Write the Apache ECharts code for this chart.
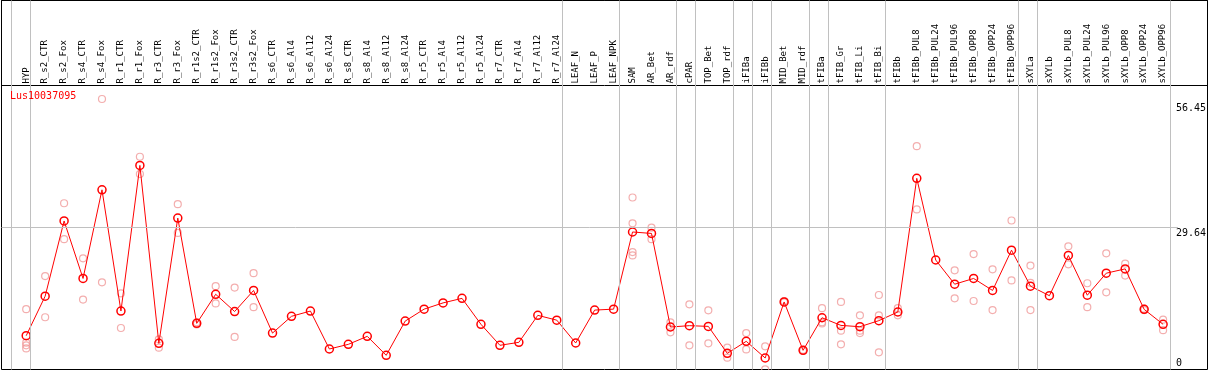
<!DOCTYPE html>
<html><head><meta charset="utf-8">
<script src="https://cdn.jsdelivr.net/npm/echarts@6/dist/echarts.min.js"></script>
<style>html,body{margin:0;padding:0;background:#fff}#c{width:1209px;height:370px}</style>
</head><body><div id="c"></div>
<script>
const geneName = 'Lus10037095';
const categories = ['HYP','R_s2_CTR','R_s2_Fox','R_s4_CTR','R_s4_Fox','R_r1_CTR','R_r1_Fox','R_r3_CTR','R_r3_Fox','R_r1s2_CTR','R_r1s2_Fox','R_r3s2_CTR','R_r3s2_Fox','R_s6_CTR','R_s6_Al4','R_s6_Al12','R_s6_Al24','R_s8_CTR','R_s8_Al4','R_s8_Al12','R_s8_Al24','R_r5_CTR','R_r5_Al4','R_r5_Al12','R_r5_Al24','R_r7_CTR','R_r7_Al4','R_r7_Al12','R_r7_Al24','LEAF_N','LEAF_P','LEAF_NPK','SAM','AR_Bet','AR_rdf','cPAR','TOP_Bet','TOP_rdf','iFIBa','iFIBb','MID_Bet','MID_rdf','tFIBa','tFIB_Gr','tFIB_Li','tFIB_Bi','tFIBb','tFIBb_PUL8','tFIBb_PUL24','tFIBb_PUL96','tFIBb_OPP8','tFIBb_OPP24','tFIBb_OPP96','sXYLa','sXYLb','sXYLb_PUL8','sXYLb_PUL24','sXYLb_PUL96','sXYLb_OPP8','sXYLb_OPP24','sXYLb_OPP96'];
const means = [7.05,15.3,31.0,19.0,37.5,12.2,42.6,5.46,31.6,9.63,15.7,12.1,16.5,7.6,11.1,12.2,4.28,5.25,6.92,2.96,10.1,12.6,13.9,14.85,9.43,5.05,5.67,11.3,10.3,5.53,12.4,12.6,28.7,28.4,8.87,9.15,9.0,3.37,5.88,2.4,14.1,4.0,10.8,9.2,8.93,10.2,12.0,39.9,22.85,17.8,19.0,16.5,24.9,17.4,15.4,23.8,15.5,20.1,21.0,12.55,9.43];
const replicates = [
  [12.6,5.6,5.05,4.4],[19.5,10.9],[34.7,27.2],[23.2,14.6],[56.45,18.2],[15.9,8.66],[44.4,40.8],[6.3,4.55],[34.5,28.5],[9.4,9.85],
  [17.4,13.8],[17.1,6.8],[20.1,13.0],[],[],[],[],[],[],[],
  [],[],[],[],[],[],[],[],[],[],
  [],[],[35.9,30.5,24.5,23.8],[29.6,27.2],[9.85,7.76],[13.6,5.05],[12.35,5.46],[4.55,2.47],[7.6,4.2],[4.84,0.04],
  [14.0,14.3],[3.9,4.1],[12.8,9.85,9.6],[14.1,8.1,5.25],[11.3,8.1,7.6],[15.55,11.3,3.59],[12.8,11.3],[46.6,33.4],[],[20.7,14.85],
  [24.1,14.3],[20.9,12.4],[31.1,18.6],[21.7,18.1,12.4],[],[25.7,21.95],[18.0,13.0],[24.25,16.1],[22.1,19.6],[12.4,12.7],
  [10.4,8.2]
];
const groupEnds = [-1,0,28,31,34,35,37,38,39,41,42,45,52,53,60];
const yTickLabels = [0, 29.64, 56.45];
const refLine = 29.64;

const W = 1209, H = 370;
const plotLeft = 1.5, plotRight = 1207.5, plotTop = 85.5, plotBottom = 369.5;
const firstX = 26.2, step = 19.0;
const lastX = firstX + step * (categories.length - 1);
const yMax = yTickLabels[yTickLabels.length - 1];
const yTop = yMax * 1.05;
const sepOffset = 0.23;
const labelColX = 1178;
const font = 'DejaVu Sans Mono';

const repData = [];
replicates.forEach((arr, i) => arr.forEach(v => repData.push([i, v])));

const chart = echarts.init(document.getElementById('c'), null, {renderer: 'canvas'});
chart.setOption({
  animation: false,
  title: {text: geneName, left: 10, top: 91, padding: 0,
    textStyle: {color: '#ff0000', fontSize: 10, fontWeight: 'normal', fontFamily: font}},
  grid: [
    {left: firstX, right: W - lastX, top: plotTop, bottom: H - plotBottom},
    {left: plotLeft, right: W - plotRight, top: 0.5, bottom: H - plotBottom, show: true, borderColor: '#000', borderWidth: 1, backgroundColor: 'transparent'},
    {left: plotLeft, right: W - plotRight, top: 0.5, height: plotTop - 0.5, show: true, borderColor: '#000', borderWidth: 1, backgroundColor: 'transparent'},
    {left: plotLeft, right: W - labelColX, top: plotTop, bottom: H - plotBottom}
  ],
  xAxis: [
    {gridIndex: 0, type: 'category', data: categories, boundaryGap: false, position: 'top',
      axisLine: {show: false}, axisTick: {show: false}, splitLine: {show: false},
      axisLabel: {interval: 0, rotate: 90, margin: 2, fontSize: 9, fontFamily: font, color: '#000'}},
    {gridIndex: 1, type: 'value', min: -(firstX - plotLeft) / step, max: (categories.length - 1) + (plotRight - lastX) / step, show: false},
    {gridIndex: 2, type: 'value', min: 0, max: 1, show: false},
    {gridIndex: 3, type: 'value', min: 0, max: 1, show: false}
  ],
  yAxis: [
    {gridIndex: 0, type: 'value', min: 0, max: yTop, show: false},
    {gridIndex: 0, type: 'value', min: 0, max: yTop, position: 'right',
      axisLine: {show: false}, axisTick: {show: false}, splitLine: {show: false},
      axisLabel: {customValues: yTickLabels.slice(1), verticalAlign: 'top', margin: labelColX - lastX + 1,
        fontSize: 10, fontFamily: font, color: '#000',
        formatter: v => v === yMax ? '{t|' + v + '}' : '{m|' + v + '}',
        rich: {t: {fontSize: 10, fontFamily: font, color: '#000', padding: [4, 0, 0, 0]},
               m: {fontSize: 10, fontFamily: font, color: '#000', padding: [1, 0, 0, 0]}}}},
    {gridIndex: 0, type: 'value', min: 0, max: yTop, position: 'right',
      axisLine: {show: false}, axisTick: {show: false}, splitLine: {show: false},
      axisLabel: {customValues: yTickLabels.slice(0, 1), verticalAlign: 'bottom', padding: [0, 0, 1.5, 0], margin: labelColX - lastX + 1,
        fontSize: 10, fontFamily: font, color: '#000', formatter: v => String(v)}},
    {gridIndex: 1, type: 'value', min: 0, max: 1, show: false},
    {gridIndex: 2, type: 'value', min: 0, max: 1, show: false},
    {gridIndex: 3, type: 'value', min: 0, max: yTop, show: false}
  ],
  series: [
    {type: 'line', xAxisIndex: 1, yAxisIndex: 3, data: [], silent: true,
      markLine: {silent: true, symbol: ['none', 'none'], label: {show: false},
        lineStyle: {color: '#c0c0c0', type: 'solid', width: 1},
        data: groupEnds.map(e => ({xAxis: e + sepOffset}))}},
    {type: 'line', xAxisIndex: 3, yAxisIndex: 5, data: [], silent: true,
      markLine: {silent: true, symbol: ['none', 'none'], label: {show: false},
        lineStyle: {color: '#c0c0c0', type: 'solid', width: 1},
        data: [{yAxis: refLine}]}},
    {type: 'scatter', name: 'replicates', xAxisIndex: 0, yAxisIndex: 0, data: repData, silent: true, z: 2,
      symbol: 'circle', symbolSize: 7,
      itemStyle: {color: 'rgba(0,0,0,0)', borderColor: '#f09a9a', borderWidth: 1.2}},
    {type: 'line', name: geneName, xAxisIndex: 0, yAxisIndex: 0, data: means, silent: true, z: 3,
      symbol: 'circle', symbolSize: 8, showAllSymbol: true,
      lineStyle: {color: '#ff0000', width: 1},
      itemStyle: {color: 'rgba(0,0,0,0)', borderColor: '#ff0000', borderWidth: 1.5}}
  ]
});
</script></body></html>
